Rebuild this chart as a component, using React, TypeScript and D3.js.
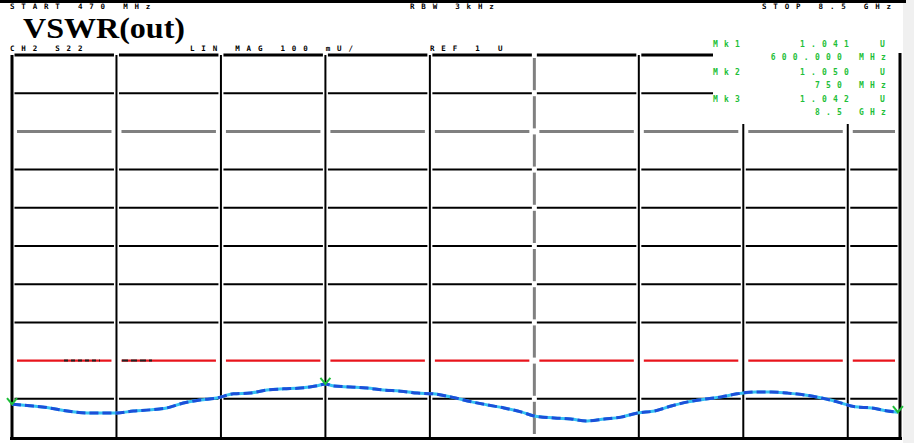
import React from "react";
import * as d3 from "d3";

// ---- data ----
const xDiv = [0, 0.2, 0.36, 0.53, 0.72, 1.01, 1.16, 1.32, 1.48, 1.64, 1.8, 1.96, 2.12, 2.28, 2.44, 2.6, 2.76, 2.92, 3.0, 3.07, 3.24, 3.4, 3.55, 3.72, 3.88, 4.03, 4.2, 4.4, 4.55, 4.71, 4.88, 5.0, 5.19, 5.35, 5.51, 5.67, 5.83, 5.99, 6.15, 6.31, 6.47, 6.63, 6.79, 6.94, 7.11, 7.27, 7.42, 7.59, 7.75, 7.9, 8.07, 8.23, 8.38, 8.48];
const vswr = [0.986, 0.981, 0.976, 0.968, 0.963, 0.963, 0.968, 0.971, 0.976, 0.989, 0.997, 1.002, 1.013, 1.015, 1.023, 1.026, 1.028, 1.034, 1.039, 1.034, 1.031, 1.028, 1.023, 1.02, 1.015, 1.013, 1.005, 0.992, 0.984, 0.976, 0.965, 0.955, 0.95, 0.947, 0.942, 0.947, 0.952, 0.963, 0.968, 0.981, 0.992, 0.999, 1.005, 1.013, 1.018, 1.018, 1.015, 1.01, 1.002, 0.992, 0.979, 0.976, 0.968, 0.965];
const divisions = [0, 1, 2, 3, 4, 5, 6, 7, 8];
const levelLines = [1.0, 1.1, 1.2, 1.3, 1.4, 1.5, 1.6, 1.7, 1.8, 1.9];
const refLevel = 1.0;
const limitLevel = 1.1;
const auxLevel = 1.7;
const centerDiv = 5;
const markerDivs = [0, 3, 8.48];
const title = "VSWR(out)";
const startLabel = "START 470 MHz";
const midLabel = "RBW 3kHz";
const stopLabel = "STOP 8.5 GHz";
const chLabel = "CH2 S22";
const scaleLabel = "LIN MAG 100 mU/";
const refLabel = "REF 1 U";
const mkNames = ["Mk1", "Mk2", "Mk3"];
const mkValues = ["1.041", "1.050", "1.042"];
const mkFreqs = ["600.000 MHz", "750 MHz", "8.5 GHz"];

export default function App() {
  const W = 914, H = 443;
  const x = d3.scaleLinear().domain([0, 8.5]).range([12, 900]);
  const y = d3.scaleLinear().domain([0.9, 1.9]).range([437, 55]);
  const pts: [number, number][] = xDiv.map((d, i) => [x(d), y(vswr[i])]);
  const line = d3.line().curve(d3.curveMonotoneX)(pts) || "";
  const boxX0 = 713, boxY1 = 124;
  const edges = [...divisions.map((d) => x(d)), x(8.5)];

  const segs = (yy: number, gap: number, key: string, stroke: string, sw: number, clipBox: boolean) => {
    const out: any[] = [];
    for (let i = 0; i < edges.length - 1; i++) {
      let a = edges[i] + gap, b = edges[i + 1] - gap;
      if (clipBox && yy < boxY1) {
        if (a >= boxX0) continue;
        b = Math.min(b, boxX0);
      }
      out.push(<line key={key + i} x1={a} x2={b} y1={yy} y2={yy} stroke={stroke} strokeWidth={sw} />);
    }
    return out;
  };

  const mono = { fontFamily: "DejaVu Sans Mono", fontWeight: "bold" as const, fontSize: 7.5, letterSpacing: 6.8 };
  const monoG = { fontFamily: "DejaVu Sans Mono", fontWeight: "bold" as const, fontSize: 8, letterSpacing: 6.2 };
  const green = "#1fbf3a";

  return (
    <svg width={W} height={H} style={{ position: "absolute", left: 0, top: 0, background: "#fff" }}>
      <rect x={0} y={0} width={W} height={H} fill="#fff" />
      <rect x={903} y={0} width={11} height={H} fill="#f0f0f0" />
      {/* top frame line */}
      <line x1={0} x2={906} y1={1.5} y2={1.5} stroke="#000" strokeWidth={3} />
      {/* header text */}
      <text x={10} y={9} {...mono} fill="#000">{startLabel}</text>
      <text x={410} y={9} {...mono} fill="#000">{midLabel}</text>
      <text x={762} y={9} {...mono} fill="#000">{stopLabel}</text>
      <text x={23} y={37.5} fontFamily="Liberation Serif" fontWeight="bold" fontSize={30} textLength={162} lengthAdjust="spacingAndGlyphs" fill="#000">{title}</text>
      <text x={10} y={51} {...mono} fill="#000">{chLabel}</text>
      <text x={190} y={51} {...mono} fill="#000">{scaleLabel}</text>
      <text x={430} y={51} {...mono} fill="#000">{refLabel}</text>

      {/* horizontal grid */}
      {levelLines.map((v) => {
        if (v === limitLevel) return segs(y(v), 5, "l" + v, "#e8141c", 2.2, false);
        if (v === auxLevel) return segs(y(v), 5, "a" + v, "#808080", 3, true);
        return segs(y(v), 2.5, "h" + v, "#000", v === 1.9 ? 3 : 2, true);
      })}
      {/* vertical grid */}
      {divisions.map((d) => {
        const xx = x(d);
        if (d === centerDiv) {
          return levelLines.concat([0.9]).sort().slice(0, -1).map((v, i) => (
            <line key={"c" + i} x1={xx} x2={xx} y1={y(v) - 3} y2={y(v + 0.1) + 3} stroke="#808080" strokeWidth={3} />
          ));
        }
        const top = xx > boxX0 ? boxY1 : y(1.9);
        return <line key={"v" + d} x1={xx} x2={xx} y1={top} y2={y(0.9)} stroke="#000" strokeWidth={d === 0 ? 3 : 2} />;
      })}
      <line x1={x(8.5)} x2={x(8.5)} y1={53} y2={440} stroke="#000" strokeWidth={3} />
      <line x1={10} x2={902} y1={438.5} y2={438.5} stroke="#000" strokeWidth={3} />

      {/* limit label marks */}
      <line x1={64} x2={100} y1={y(limitLevel)} y2={y(limitLevel)} stroke="#222" strokeWidth={2} strokeDasharray="4 3" />
      <line x1={122} x2={152} y1={y(limitLevel)} y2={y(limitLevel)} stroke="#222" strokeWidth={2} strokeDasharray="6 3" />

      {/* trace */}
      <path d={line} fill="none" stroke="#35c3f2" strokeWidth={3} />
      <path d={line} fill="none" stroke="#1c4fd9" strokeWidth={3} strokeDasharray="9 4" />

      {/* markers */}
      {markerDivs.map((d, i) => {
        const j = xDiv.indexOf(d);
        const mx = x(d), my = y(vswr[j]);
        return <path key={"m" + i} d={`M${mx - 5},${my - 6} L${mx},${my} L${mx + 5},${my - 6}`} fill="none" stroke={green} strokeWidth={2} />;
      })}

      {/* marker readout */}
      {mkNames.map((n, i) => {
        const by = 47 + i * 27.5;
        return (
          <g key={"r" + i} fill={green} {...monoG}>
            <text x={713} y={by}>{n}</text>
            <text x={800} y={by}>{mkValues[i]}</text>
            <text x={880} y={by}>U</text>
            <text x={892} y={by + 13} textAnchor="end">{mkFreqs[i]}</text>
          </g>
        );
      })}
    </svg>
  );
}
